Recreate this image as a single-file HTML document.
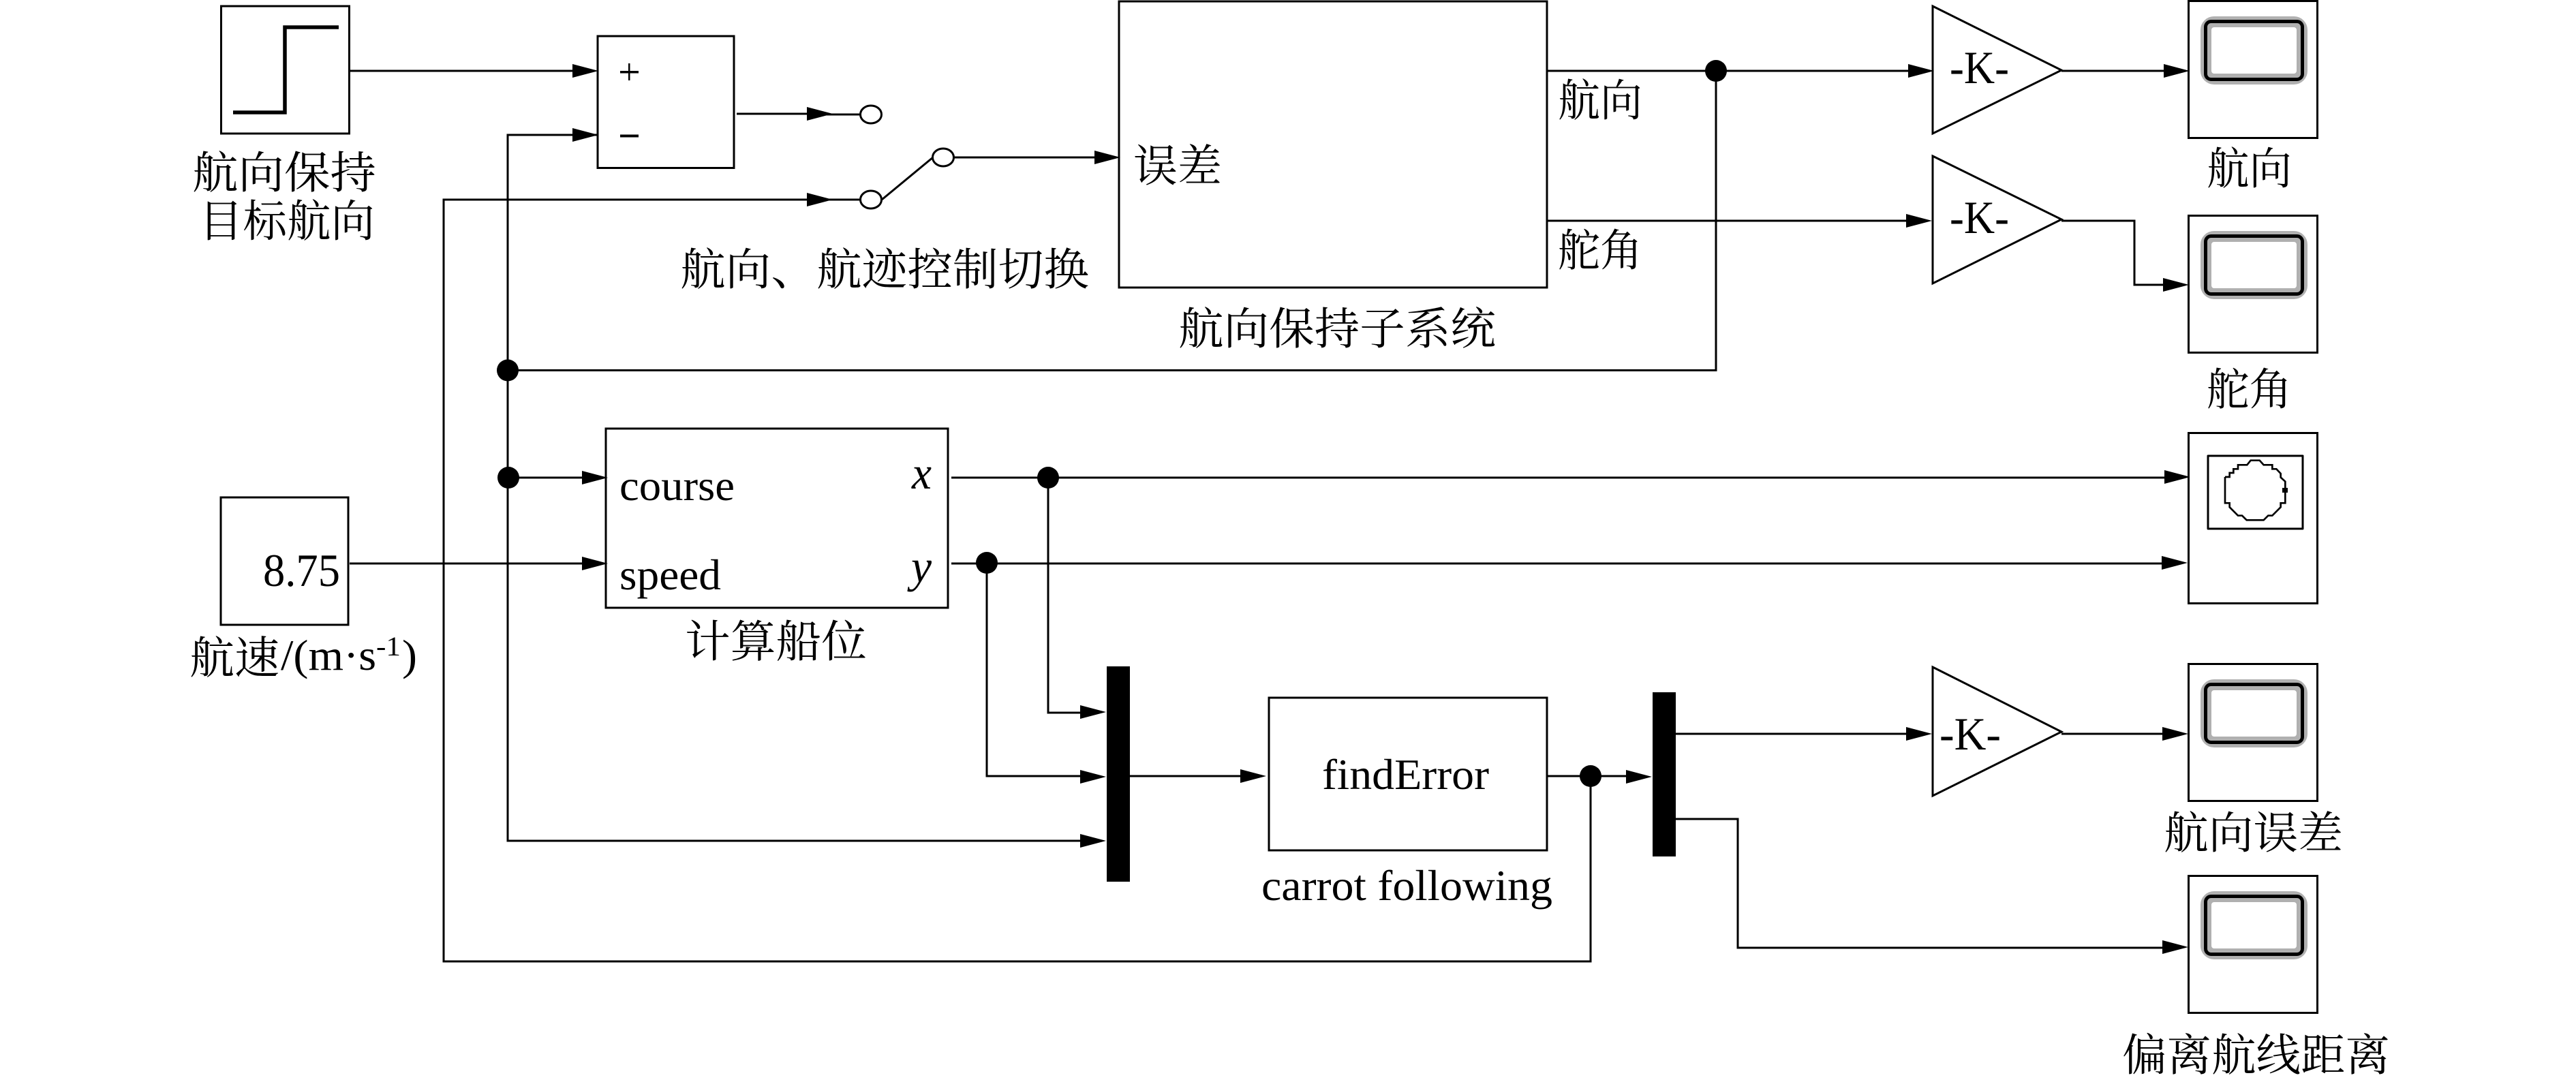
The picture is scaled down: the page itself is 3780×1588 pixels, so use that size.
<!DOCTYPE html>
<html><head><meta charset="utf-8"><style>
html,body{margin:0;padding:0;background:#fff}
svg{display:block}
.c{font-family:"Liberation Serif","Noto Serif CJK SC",serif;font-size:65px;fill:#000}
.l{font-family:"Liberation Serif",serif;font-size:64px;fill:#000}
.i{font-family:"Liberation Serif",serif;font-size:68px;font-style:italic;fill:#000}
</style></head><body>
<svg xmlns="http://www.w3.org/2000/svg" width="3780" height="1588" viewBox="0 0 3780 1588">
<rect width="3780" height="1588" fill="#fff"/>
<defs>
<polygon id="a" points="-38,-10 0,0 -38,10"/>
<g id="scope">
<rect x="1.5" y="1.5" width="189" height="201" fill="#fff" stroke="#000" stroke-width="3"/>
<rect x="27" y="32" width="141" height="84" rx="12" fill="none" stroke="#b0b0b0" stroke-width="16"/>
<rect x="26.5" y="31.5" width="142" height="85" rx="8" fill="none" stroke="#000" stroke-width="5"/>
</g>
</defs>
<g fill="none" stroke="#000" stroke-width="3">
<!-- blocks -->
<rect x="324.5" y="9" width="188" height="187"/>
<rect x="877" y="53" width="200" height="193.500"/>
<rect x="1642" y="2" width="628" height="420"/>
<rect x="889" y="629" width="502" height="263"/>
<rect x="324" y="730" width="187" height="187"/>
<rect x="1862" y="1024" width="408" height="224"/>
<polyline points="342,165 418,165 418,40 497,40" stroke-width="5.500"/>
<!-- gains -->
<polygon points="2836,9 3025,103 2836,196"/>
<polygon points="2836,229 3025,322 2836,416"/>
<polygon points="2836,979 3025,1074 2836,1168"/>
<!-- wires -->
<path d="M514,104H845"/>
<path d="M1081,167H1190M1190,168H1262"/>
<path d="M878,198H745V1234H1590"/>
<path d="M1190,293H651V1411H2334V1139"/>
<path d="M1262,293H1200"/>
<ellipse cx="1278" cy="168" rx="15.500" ry="13"/>
<ellipse cx="1278" cy="293" rx="15.500" ry="13"/>
<ellipse cx="1384" cy="231" rx="15.500" ry="13"/>
<path d="M1294,293L1369,231"/>
<path d="M1400,231H1610"/>
<path d="M2270,104H2805"/>
<path d="M2270,324H2805"/>
<path d="M2518,104V543.500H745"/>
<path d="M3025,104H3180"/>
<path d="M3025,324H3132V418H3180"/>
<path d="M745,701H860"/>
<path d="M513,827H860"/>
<path d="M1396,701H3180"/>
<path d="M1396,827H3175"/>
<path d="M1538,701V1046H1590"/>
<path d="M1448,827V1139H1590"/>
<path d="M1658,1139H1825"/>
<path d="M2270,1139H2390"/>
<path d="M2459,1077H2805"/>
<path d="M3025,1077H3180"/>
<path d="M2459,1202H2550V1391H3180"/>
</g>
<!-- arrowheads -->
<g fill="#000">
<use href="#a" x="878" y="104"/>
<use href="#a" x="878" y="198"/>
<use href="#a" x="1222" y="167"/>
<use href="#a" x="1222" y="293"/>
<use href="#a" x="1644" y="231"/>
<use href="#a" x="2838" y="104"/>
<use href="#a" x="2835" y="324"/>
<use href="#a" x="3213" y="104"/>
<use href="#a" x="3212" y="418"/>
<use href="#a" x="892" y="701"/>
<use href="#a" x="892" y="827"/>
<use href="#a" x="3214" y="700"/>
<use href="#a" x="3210" y="826"/>
<use href="#a" x="1623" y="1045"/>
<use href="#a" x="1623" y="1140"/>
<use href="#a" x="1623" y="1234"/>
<use href="#a" x="1858" y="1139"/>
<use href="#a" x="2424" y="1140"/>
<use href="#a" x="2835" y="1077"/>
<use href="#a" x="3211" y="1077"/>
<use href="#a" x="3211" y="1390"/>
<!-- junctions -->
<circle cx="2518" cy="104" r="16"/>
<circle cx="745" cy="543.500" r="16"/>
<circle cx="746" cy="701" r="16"/>
<circle cx="1538" cy="701" r="16"/>
<circle cx="1448" cy="826" r="16"/>
<circle cx="2334" cy="1139" r="16"/>
<!-- mux -->
<rect x="1624" y="978" width="34" height="316"/>
<rect x="2425" y="1016" width="34" height="241"/>
<!-- sum signs -->
<rect x="910" y="104" width="27" height="3.500"/>
<rect x="922" y="93" width="2.500" height="25"/>
<rect x="910" y="197.500" width="27" height="4"/>
</g>
<!-- scopes -->
<use href="#scope" x="3210" y="0"/>
<use href="#scope" x="3210" y="315"/>
<use href="#scope" x="3210" y="973"/>
<use href="#scope" x="3210" y="1284"/>
<g fill="none" stroke="#000" stroke-width="3">
<rect x="3211.500" y="635.500" width="189" height="250" fill="#fff"/>
<rect x="3240" y="669" width="139" height="107" stroke-linejoin="round"/>
<polyline transform="translate(3200,620) scale(.3333)" stroke-width="8" points="195,240 215,240 215,222 232,222 232,205 252,205 252,187 292,187 308,167 347,167 365,187 403,187 403,205 421,205 440,225 440,242 460,260 460,355 440,355 440,373 403,410 385,410 365,430 290,430 270,410 252,410 215,373 215,355 195,355 195,240"/>
</g>
<rect x="3349" y="716" width="8" height="7" fill="#000"/>
<!-- text -->
<g class="c">
<text x="282" y="276" textLength="270" lengthAdjust="spacingAndGlyphs">航向保持</text>
<text x="292" y="347" textLength="258" lengthAdjust="spacingAndGlyphs">目标航向</text>
<text x="998" y="418" textLength="600" lengthAdjust="spacingAndGlyphs">航向、航迹控制切换</text>
<text x="1663" y="266" textLength="130" lengthAdjust="spacingAndGlyphs">误差</text>
<text x="2286" y="170" textLength="124" lengthAdjust="spacingAndGlyphs">航向</text>
<text x="2286" y="390" textLength="124" lengthAdjust="spacingAndGlyphs">舵角</text>
<text x="1729" y="505" textLength="466" lengthAdjust="spacingAndGlyphs">航向保持子系统</text>
<text x="3238" y="270" textLength="125" lengthAdjust="spacingAndGlyphs">航向</text>
<text x="3238" y="594" textLength="125" lengthAdjust="spacingAndGlyphs">舵角</text>
<text x="3175" y="1245" textLength="263" lengthAdjust="spacingAndGlyphs">航向误差</text>
<text x="3114" y="1571" textLength="393" lengthAdjust="spacingAndGlyphs">偏离航线距离</text>
<text x="1005" y="964" textLength="267" lengthAdjust="spacingAndGlyphs">计算船位</text>
<text x="278" y="988" textLength="132" lengthAdjust="spacingAndGlyphs">航速</text>
</g>
<g class="l">
<text x="412" y="983" textLength="140" lengthAdjust="spacingAndGlyphs">/(m·s</text>
<text x="552" y="962" textLength="36" lengthAdjust="spacingAndGlyphs" style="font-size:40px">-1</text>
<text x="590" y="983" textLength="22" lengthAdjust="spacingAndGlyphs">)</text>
<text x="386" y="860" textLength="113" lengthAdjust="spacingAndGlyphs" style="font-size:68px">8.75</text>
<text x="909" y="734" textLength="169" lengthAdjust="spacingAndGlyphs">course</text>
<text x="909" y="865" textLength="149" lengthAdjust="spacingAndGlyphs">speed</text>
<text x="1940" y="1158" textLength="245" lengthAdjust="spacingAndGlyphs">findError</text>
<text x="1851" y="1321" textLength="427" lengthAdjust="spacingAndGlyphs">carrot following</text>
<text x="2861" y="122" textLength="87" lengthAdjust="spacingAndGlyphs" style="font-size:68px">-K-</text>
<text x="2861" y="342" textLength="87" lengthAdjust="spacingAndGlyphs" style="font-size:68px">-K-</text>
<text x="2846" y="1100" textLength="90" lengthAdjust="spacingAndGlyphs" style="font-size:68px">-K-</text>
</g>
<text class="i" x="1338" y="717" textLength="29" lengthAdjust="spacingAndGlyphs">x</text>
<text class="i" x="1337" y="854" textLength="30" lengthAdjust="spacingAndGlyphs">y</text>
</svg>
</body></html>
